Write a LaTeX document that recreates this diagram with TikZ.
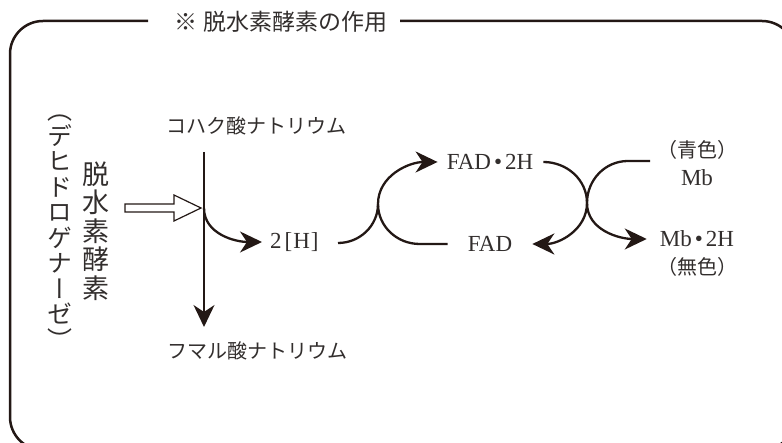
\documentclass[tikz,border=0pt]{standalone}
\usepackage{fontspec}
\setmainfont{Liberation Serif}
\newfontfamily\jp{Noto Sans CJK JP}
\newfontfamily\jpv[RawFeature=+vert]{Noto Sans CJK JP}
\usetikzlibrary{arrows.meta}
\definecolor{ink}{RGB}{35,24,21}
\definecolor{txt}{RGB}{50,46,45}
\newcommand\vbig{\jpv\fontsize{27}{28.6}\selectfont\lineskiplimit=-20pt\relax}
\newcommand\vsmall{\jpv\fontsize{25}{25.5}\selectfont\lineskiplimit=-20pt\relax}
\newcommand\mdot{\kern3pt•\kern3pt}
\begin{document}
\begin{tikzpicture}[x=1pt,y=1pt,
  jtxt/.style={font=\jp\fontsize{20}{24}\selectfont, text=txt, inner sep=0pt},
  ltxt/.style={font=\fontsize{23}{27}\selectfont, text=txt, inner sep=0pt},
  vtxt/.style={text=txt, inner sep=0pt, align=center},
  flow/.style={draw=ink, line width=2.3pt},
  tip/.style={-{Stealth[length=22pt,width=21pt,inset=7pt]}}
]
\useasboundingbox (0,0) rectangle (782,443);
\begin{scope}
\clip (0,0) rectangle (782,443);
\draw[ink, line width=2.5pt, rounded corners=33pt]
  (148,422) -- (10,422) -- (10,-7) -- (795,-7) -- (795,422) -- (400,422);
\end{scope}
\node[font=\jp\fontsize{23}{28}\selectfont, text=txt, inner sep=0pt] (title) at (281,421) {※ 脱水素酵素の作用};

% vertical labels
\node[vtxt, font=\vbig] (enz) at (96,212) {脱\\水\\素\\酵\\素};
\node[vtxt, font=\vsmall] (enzk) at (60,211) {（\\デ\\ヒ\\ド\\ロ\\ゲ\\ナ\\ー\\ゼ\\）};

% hollow arrow
\draw[ink, line width=1.2pt, fill=white]
  (125,239) -- (174,239) -- (174,248) -- (201,235) -- (174,222) -- (174,231) -- (125,231) -- cycle;

% succinate -> fumarate
\node[jtxt] (suc) at (256,317) {コハク酸ナトリウム};
\node[jtxt] (fum) at (257,92) {フマル酸ナトリウム};
\coordinate (vtop) at (204,291);
\coordinate (vbot) at (204,116);
\coordinate (vmid) at (204,235);
\draw[flow, line width=2pt, tip] (vtop) -- (vbot);

% 2[H]
\node[ltxt, anchor=west] (h2) at (270,201) {2\kern3pt[\kern1pt H\kern1pt]};
\draw[flow, tip] (vmid) to[out=-90,in=180] ([xshift=-8pt]h2.west);

% FAD cycle
\node[ltxt] (fadh) at (490,281) {FAD\mdot 2H};
\node[ltxt] (fad) at (490,199) {FAD};
\coordinate (J1) at (378,239);
\coordinate (a1) at (338,200);
\draw[flow] (a1) to[out=0,in=-90] (J1);
\draw[flow, tip] ([xshift=-20pt]fad.west) -- ++(-28,0) to[out=180,in=-90] (J1)
  to[out=90,in=180] ([xshift=-9pt]fadh.west);

% Mb cycle
\node[jtxt] (blue) at (697,293) {（青色）};
\node[ltxt] (mb) at (697,265) {Mb};
\node[ltxt] (mbh) at (697,204) {Mb\mdot 2H};
\node[jtxt] (nocol) at (697,176) {（無色）};
\coordinate (J2) at (587,240);
\coordinate (m1) at (650,282);
\draw[flow, tip] ([xshift=10pt]fadh.east) to[out=0,in=90] (J2)
  to[out=-90,in=0] ([xshift=20pt]fad.east);
\draw[flow, tip] (m1) -- ++(-22,0) to[out=180,in=90] (J2)
  to[out=-90,in=180] ([xshift=-13pt]mbh.west);
\end{tikzpicture}
\end{document}
